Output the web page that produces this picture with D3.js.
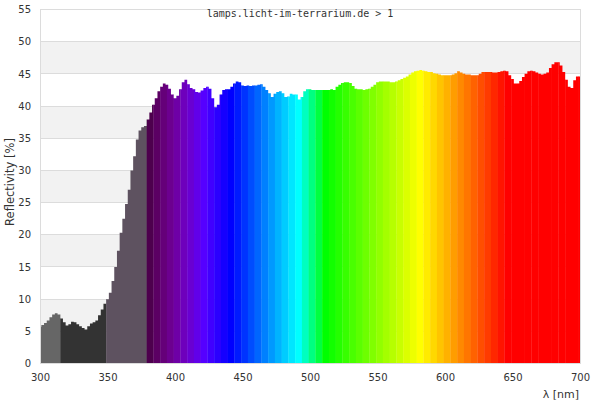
<!DOCTYPE html>
<html><head><meta charset="utf-8">
<script src="https://cdn.jsdelivr.net/npm/d3@7"></script>
<style>
html,body{margin:0;padding:0;background:#fff;}
svg{display:block;}
text{font-family:"DejaVu Sans",sans-serif;fill:#333;}
</style></head>
<body>
<svg id="chart" width="600" height="400"></svg>
<script>
// ---- data ----
const title = "lamps.licht-im-terrarium.de > 1";
const xLabel = "λ [nm]";
const yLabel = "Reflectivity [%]";
const xTicks = [300, 350, 400, 450, 500, 550, 600, 650, 700];
const yTicks = [0, 5, 10, 15, 20, 25, 30, 35, 40, 45, 50, 55];
const wavelengths = d3.range(300, 701, 2);
const reflectivity = [
  5.7, 6.0, 6.3, 6.7, 7.2, 7.6, 7.8, 7.6, 7.0, 6.4,            // 300-318
  5.9, 6.1, 6.5, 6.4, 6.1, 5.8, 5.5, 5.3, 5.8, 6.2,            // 320-338
  6.4, 6.7, 7.5, 8.4, 9.3, 10.0, 11.0, 12.8, 15.0, 17.5,       // 340-358
  20.3, 22.5, 24.8, 27.0, 30.0, 32.2, 34.8, 36.2, 36.7, 36.9,  // 360-378
  37.9, 39.0, 40.2, 41.2, 42.3, 43.0, 43.5, 43.3, 42.7, 41.8,  // 380-398
  41.2, 41.6, 42.6, 43.7, 44.1, 43.4, 42.8, 42.6, 42.2, 42.1,  // 400-418
  42.4, 42.8, 43.0, 42.7, 41.2, 39.8, 40.2, 41.8, 42.5, 42.6,  // 420-438
  42.6, 43.0, 43.5, 43.8, 43.7, 43.2, 43.1, 43.2, 43.1, 43.2,  // 440-458
  43.2, 43.3, 43.4, 43.0, 42.5, 42.0, 41.4, 41.9, 42.2, 42.3,  // 460-478
  42.0, 41.4, 41.5, 41.9, 41.8, 41.8, 41.0, 41.4, 42.3, 42.6,  // 480-498
  42.6, 42.5, 42.5, 42.5, 42.5, 42.5, 42.5, 42.5, 42.6, 42.5,  // 500-518
  43.0, 43.3, 43.6, 43.7, 43.7, 43.6, 43.1, 42.7, 42.6, 42.6,  // 520-538
  42.5, 42.6, 42.7, 43.0, 43.3, 43.7, 43.8, 43.8, 43.8, 43.8,  // 540-558
  43.7, 43.7, 43.8, 44.0, 44.2, 44.4, 44.6, 44.9, 45.2, 45.4,  // 560-578
  45.5, 45.6, 45.5, 45.4, 45.3, 45.3, 45.1, 45.0, 44.9, 44.8,  // 580-598
  44.8, 44.8, 44.8, 44.9, 45.1, 45.4, 45.2, 45.0, 44.9, 44.9,  // 600-618
  44.8, 44.8, 44.8, 45.0, 45.3, 45.3, 45.3, 45.3, 45.2, 45.2,  // 620-638
  45.3, 45.4, 45.5, 45.4, 44.8, 44.2, 43.5, 43.5, 43.9, 44.5,  // 640-658
  45.0, 45.4, 45.5, 45.4, 45.2, 45.0, 44.9, 45.0, 45.2, 45.9,  // 660-678
  46.5, 46.8, 46.8, 46.3, 45.3, 44.1, 43.0, 42.8, 44.0, 44.6,  // 680-698
  44.6                                                          // 700
];
// UV regions drawn in grey tones
const uvRegions = [
  {from: 300, to: 315, color: "#666666"},
  {from: 315, to: 349, color: "#333333"},
  {from: 349, to: 379, color: "#5e5260"}
];
const spectrumStart = 379, spectrumEnd = 700, bandWidth = 5;

// ---- layout ----
const svg = d3.select("#chart");
const m = {left: 40, right: 20, top: 9.5, bottom: 36.5};
const W = 600, H = 400;
const x = d3.scaleLinear().domain([300, 700]).range([m.left, W - m.right]);
const y = d3.scaleLinear().domain([0, 55]).range([H - m.bottom, m.top]);

// wavelength -> colour (visible spectrum approximation)
function waveColor(w) {
  let r = 0, g = 0, b = 0;
  if (w < 440) { r = -(w - 440) / 60; b = 1; }
  else if (w < 490) { g = (w - 440) / 50; b = 1; }
  else if (w < 510) { g = 1; b = -(w - 510) / 20; }
  else if (w < 580) { r = (w - 510) / 70; g = 1; }
  else if (w < 645) { r = 1; g = -(w - 645) / 65; }
  else { r = 1; }
  let f = 1;
  if (w < 420) f = 0.3 + 0.7 * (w - 380) / 40;
  const c = v => Math.round(255 * Math.max(0, Math.min(1, v * f)));
  return `rgb(${c(r)},${c(g)},${c(b)})`;
}

// background stripes
const stripes = d3.range(0, yTicks.length - 1).map(i => [yTicks[i], yTicks[i + 1]]);
svg.append("g").selectAll("rect").data(stripes).join("rect")
  .attr("x", x(300)).attr("width", x(700) - x(300))
  .attr("y", d => y(d[1])).attr("height", d => y(d[0]) - y(d[1]))
  .attr("fill", (d, i) => i % 2 === 1 ? "#f2f2f2" : "#ffffff");

// grid lines
svg.append("g").selectAll("line").data(yTicks).join("line")
  .attr("x1", x(300)).attr("x2", x(700))
  .attr("y1", d => y(d)).attr("y2", d => y(d))
  .attr("stroke", "#dcdcdc").attr("stroke-width", 1)
  .attr("shape-rendering", "crispEdges");

// area clip
const data = wavelengths.map((w, i) => ({w, v: reflectivity[i]}));
const area = d3.area().curve(d3.curveStep)
  .x(d => x(d.w)).y0(y(0)).y1(d => y(d.v));
svg.append("clipPath").attr("id", "clip")
  .append("path").attr("d", area(data));

const bands = uvRegions.slice();
for (let s = spectrumStart; s < spectrumEnd; s += bandWidth) {
  bands.push({from: s, to: Math.min(s + bandWidth, spectrumEnd), color: waveColor(s + 1)});
}
svg.append("g").attr("clip-path", "url(#clip)")
  .selectAll("rect").data(bands).join("rect")
  .attr("x", d => x(d.from)).attr("width", d => x(d.to) - x(d.from) + 0.3)
  .attr("y", y(55)).attr("height", y(0) - y(55))
  .attr("fill", d => d.color);

// frame
svg.append("rect")
  .attr("x", x(300)).attr("y", y(55))
  .attr("width", x(700) - x(300)).attr("height", y(0) - y(55))
  .attr("fill", "none").attr("stroke", "#dcdcdc").attr("shape-rendering", "crispEdges");

// axes
const yAxis = d3.axisLeft(y).tickValues(yTicks).tickSize(0).tickPadding(9);
const gy = svg.append("g").attr("transform", `translate(${x(300)},0)`).call(yAxis);
gy.select(".domain").remove();
gy.selectAll("text").style("font-size", "10px").attr("fill", "#333").style("font-family", "DejaVu Sans");

const xAxis = d3.axisBottom(x).tickValues(xTicks).tickSize(0).tickPadding(10);
const gx = svg.append("g").attr("transform", `translate(0,${y(0)})`).call(xAxis);
gx.select(".domain").remove();
gx.selectAll("text").style("font-size", "10px").attr("fill", "#333").style("font-family", "DejaVu Sans");

// labels
svg.append("text").attr("x", 300).attr("y", 16.5)
  .attr("text-anchor", "middle")
  .style("font-family", "DejaVu Sans Mono").style("font-size", "10px")
  .text(title);
svg.append("text").attr("x", 579).attr("y", 397.5)
  .attr("text-anchor", "end").style("font-size", "11px").text(xLabel);
svg.append("text").attr("transform", "translate(13.5,182) rotate(-90)")
  .attr("text-anchor", "middle").style("font-size", "11.5px").text(yLabel);
</script>
</body></html>
